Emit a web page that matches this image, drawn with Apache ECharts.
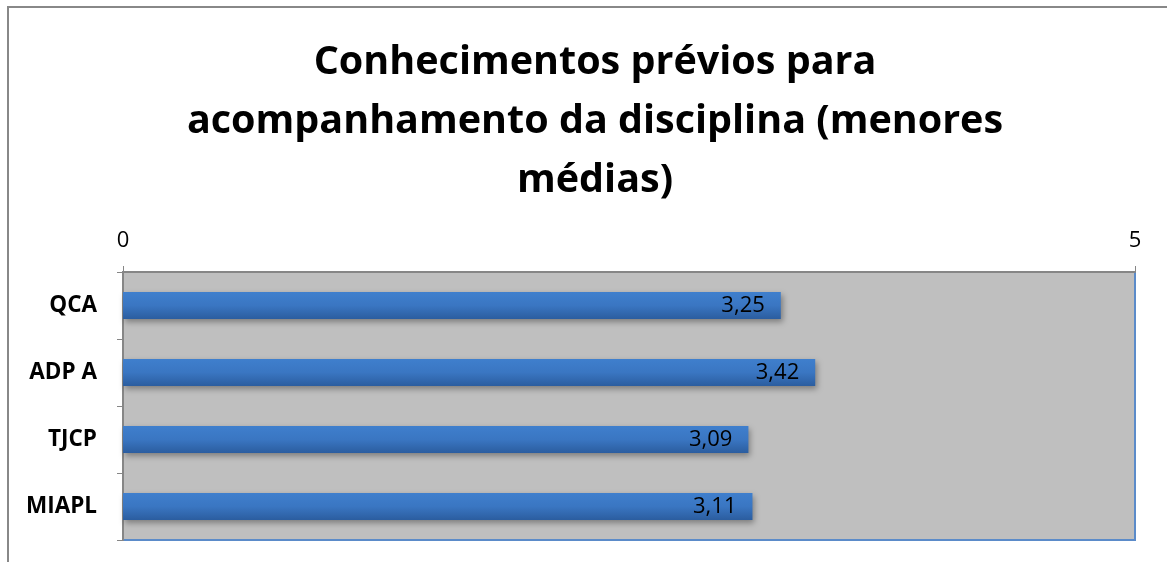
<!DOCTYPE html>
<html>
<head>
<meta charset="utf-8">
<script src="https://cdn.jsdelivr.net/npm/echarts@6/dist/echarts.min.js"></script>
<style>
  html, body { margin: 0; padding: 0; background: #fff; }
  #chart { width: 1167px; height: 562px; }
</style>
</head>
<body>
<div id="chart"></div>
<script>
  var categories = ['QCA', 'ADP A', 'TJCP', 'MIAPL'];
  var medias = [3.25, 3.42, 3.09, 3.11];
  var axisTicks = [0, 5];

  var chart = echarts.init(document.getElementById('chart'));
  chart.setOption({
    backgroundColor: '#fff',
    graphic: [{
      type: 'rect',
      shape: { x: 8, y: 7, width: 1200, height: 600 },
      style: { fill: 'none', stroke: '#888', lineWidth: 2 },
      silent: true
    }],
    title: {
      text: 'Conhecimentos prévios para\nacompanhamento da disciplina (menores\nmédias)',
      left: 590,
      textAlign: 'center',
      top: 28,
      textStyle: {
        fontFamily: 'Open Sans',
        fontWeight: 'bold',
        fontSize: 39.5,
        lineHeight: 59,
        color: '#000'
      }
    },
    grid: {
      left: 123,
      right: 32,
      top: 272,
      bottom: 22,
      show: true,
      backgroundColor: '#BFBFBF',
      borderColor: '#5B8BC9',
      borderWidth: 2
    },
    xAxis: {
      type: 'value',
      position: 'top',
      min: axisTicks[0],
      max: axisTicks[1],
      interval: 5,
      splitLine: { show: false },
      axisLine: { show: true, lineStyle: { color: '#868686', width: 2 } },
      axisTick: { show: true, length: 6, lineStyle: { color: '#868686' } },
      axisLabel: { fontFamily: 'Open Sans', fontSize: 22, color: '#000', margin: 20 }
    },
    yAxis: {
      type: 'category',
      inverse: true,
      data: categories,
      axisLine: { show: true, lineStyle: { color: '#868686', width: 2 } },
      axisTick: { show: true, length: 6, lineStyle: { color: '#868686' } },
      axisLabel: { fontFamily: 'Open Sans', fontWeight: 'bold', fontSize: 22.5, color: '#000', margin: 26 }
    },
    series: [{
      type: 'bar',
      data: medias,
      barWidth: 27,
      itemStyle: {
        color: new echarts.graphic.LinearGradient(0, 0, 0, 1, [
          { offset: 0, color: '#3F7FCD' },
          { offset: 0.5, color: '#3A76C2' },
          { offset: 1, color: '#2B5D9F' }
        ]),
        shadowColor: 'rgba(0,0,0,0.35)',
        shadowBlur: 6,
        shadowOffsetX: 2,
        shadowOffsetY: 3
      },
      label: {
        show: true,
        position: 'insideRight',
        distance: 16,
        fontFamily: 'Open Sans',
        fontSize: 22,
        color: '#000',
        formatter: function (p) { return p.value.toFixed(2).replace('.', ','); }
      }
    }]
  });
</script>
</body>
</html>
